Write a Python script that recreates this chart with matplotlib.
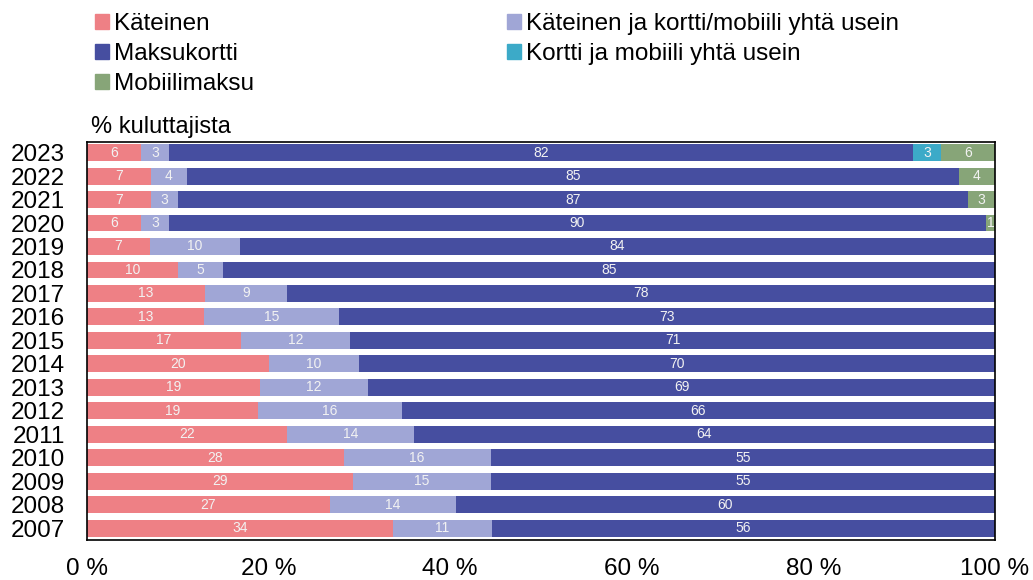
import matplotlib.pyplot as plt
import numpy as np
from matplotlib.patches import Patch

plt.rcParams['font.family'] = ['Liberation Sans', 'DejaVu Sans']

# Data, 2007 -> 2023
years = ['2007', '2008', '2009', '2010', '2011', '2012', '2013', '2014', '2015',
         '2016', '2017', '2018', '2019', '2020', '2021', '2022', '2023']
kateinen = [34, 27, 29, 28, 22, 19, 19, 20, 17, 13, 13, 10, 7, 6, 7, 7, 6]
kateinen_ja_kortti = [11, 14, 15, 16, 14, 16, 12, 10, 12, 15, 9, 5, 10, 3, 3, 4, 3]
maksukortti = [56, 60, 55, 55, 64, 66, 69, 70, 71, 73, 78, 85, 84, 90, 87, 85, 82]
kortti_ja_mobiili = [0, 0, 0, 0, 0, 0, 0, 0, 0, 0, 0, 0, 0, 0, 0, 0, 3]
mobiilimaksu = [0, 0, 0, 0, 0, 0, 0, 0, 0, 0, 0, 0, 0, 1, 3, 4, 6]

series_names = ['Käteinen', 'Käteinen ja kortti/mobiili yhtä usein', 'Maksukortti',
                'Kortti ja mobiili yhtä usein', 'Mobiilimaksu']
series = [kateinen, kateinen_ja_kortti, maksukortti, kortti_ja_mobiili, mobiilimaksu]
colors = ['#EE8085', '#A0A6D6', '#464EA0', '#3CAAC8', '#87A578']

vals = np.array(series, dtype=float)
shares = vals / vals.sum(axis=0) * 100  # bars are scaled to 100 %

fig = plt.figure(figsize=(10.33, 5.8), dpi=100)
ax = fig.add_axes([87 / 1033, 1 - 540 / 580, 908 / 1033, 398 / 580])

y = np.arange(len(years))
left = np.zeros(len(years))
for name, raw, share, col in zip(series_names, vals, shares, colors):
    ax.barh(y, share, left=left, height=0.72, color=col, label=name)
    for yi, (v, s, l) in enumerate(zip(raw, share, left)):
        if v > 0:
            ax.text(l + s / 2, yi, f'{int(v)}', ha='center', va='center',
                    fontsize=10, color='#f2f2f2')
    left += share

ax.set_xlim(0, 100)
ax.set_ylim(-0.5, 16.45)
ax.set_yticks(y)
ax.set_yticklabels(years, fontsize=17.5)
ax.set_xticks([0, 20, 40, 60, 80, 100])
ax.set_xticklabels(['0 %', '20 %', '40 %', '60 %', '80 %', '100 %'], fontsize=17.5)
ax.tick_params(length=0)
ax.tick_params(axis='y', pad=16)
ax.tick_params(axis='x', pad=13)
for sp in ax.spines.values():
    sp.set_color('black')
    sp.set_linewidth(1.2)

fig.text(91 / 1033, 1 - 127 / 580, '% kuluttajista', fontsize=17, va='center', ha='left')

# legend laid out row-wise like the original
order = [0, 2, 4, 1, 3]
handles = [Patch(color=colors[i]) for i in order]
labels = [series_names[i] for i in order]
fig.legend(handles, labels, loc='upper left', bbox_to_anchor=(95 / 1033, 0.978),
           ncol=2, frameon=False, fontsize=17.5, handlelength=0.58, handleheight=0.58,
           handletextpad=0.2, labelspacing=0.34, columnspacing=10.4,
           borderpad=0, borderaxespad=0)

fig.savefig('out.png', dpi=100)
